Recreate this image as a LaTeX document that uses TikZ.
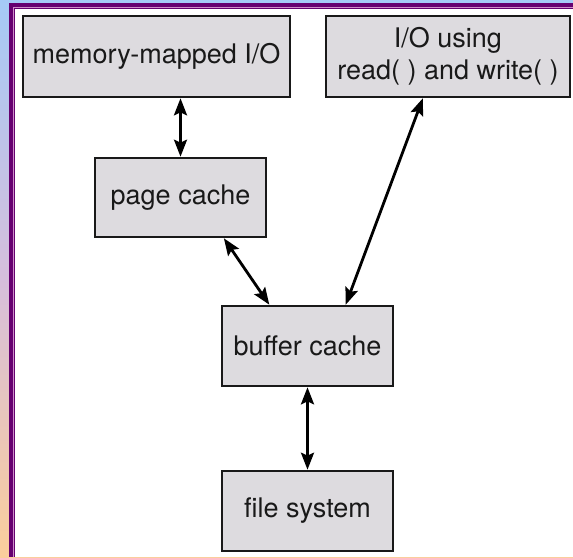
\documentclass[tikz,border=0pt]{standalone}
\usepackage{fontspec}
\setmainfont{TeX Gyre Heros}
\usetikzlibrary{arrows.meta,calc}
\definecolor{bgtop}{RGB}{165,202,246}
\definecolor{bgmid}{RGB}{214,190,220}
\definecolor{bgbot}{RGB}{251,206,156}
\definecolor{framepurple}{RGB}{102,0,112}
\definecolor{framepink}{RGB}{205,140,200}
\definecolor{boxfill}{RGB}{221,219,223}
\definecolor{ink}{RGB}{25,25,25}
\tikzset{
  blk/.style={draw=ink, line width=2.6pt, fill=boxfill, inner sep=0pt, align=center,
    text=ink, font=\fontsize{27}{32}\selectfont},
  conn/.style={line width=2.8pt, draw=black,
    {Stealth[length=17pt,width=13pt,inset=3pt]}-{Stealth[length=17pt,width=13pt,inset=3pt]}}
}
\begin{document}
\begin{tikzpicture}[x=1pt,y=-1pt]
\useasboundingbox (0,0) rectangle (573,557);
% background and frame
\shade[top color=bgtop, bottom color=bgbot, middle color=bgmid] (0,0) rectangle (573,557);
\fill[framepurple] (9.3,2.7) rectangle (573,557);
\fill[framepink] (13.3,6.7) rectangle (573,557);
\fill[framepurple] (14.3,7.7) rectangle (573,557);
\fill[white] (15.3,8.7) rectangle (573,557);
% boxes
\node[blk, minimum width=267pt, minimum height=81pt] (mm) at (156.5,56.5) {memory-mapped I/O};
\node[blk, minimum width=244pt, minimum height=81pt] (io) at (448,56.5) {I/O using\\read( ) and write( )};
\node[blk, minimum width=171pt, minimum height=79pt] (page) at (180.5,197.5) {page cache};
\node[blk, minimum width=171pt, minimum height=80pt] (buf) at (307.5,346) {buffer cache};
\node[blk, minimum width=171pt, minimum height=80pt] (fs) at (307.5,511) {file system};
% connectors
\draw[conn] (page.north |- mm.south) -- (page.north);
\draw[conn] ($(page.south west)!0.75!(page.south east)$) -- ($(buf.north west)!0.28!(buf.north east)$);
\draw[conn] ($(io.south west)!0.398!(io.south east)$) -- ($(buf.north west)!0.72!(buf.north east)$);
\draw[conn] (buf.south) -- (fs.north);
\end{tikzpicture}
\end{document}
